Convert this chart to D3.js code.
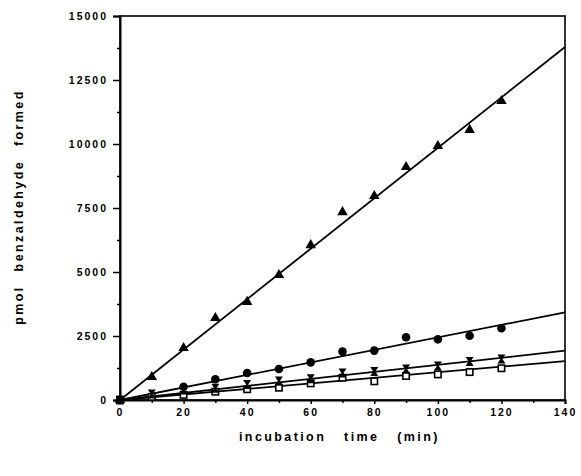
<!DOCTYPE html>
<html>
<head>
<meta charset="utf-8">
<script src="https://cdn.jsdelivr.net/npm/d3@7"></script>
<style>
    body { margin: 0; background: #fff; }
    svg { display: block; }
    text { font-family: "Liberation Sans", Arial, sans-serif; font-weight: bold; fill: #000; }
</style>
</head>
<body>
<div id="chart"></div>
<script>
// incubation time (min)
const times = [10, 20, 30, 40, 50, 60, 70, 80, 90, 100, 110, 120];

// pmol benzaldehyde formed, one array per series
const triangles = [900, 2030, 3200, 3830, 4880, 6050, 7340, 7970, 9100, 9920, 10550, 11680];
const circles   = [null, 520, 810, 1055, 1210, 1470, 1890, 1930, 2450, 2370, 2510, 2800];
const hourglass = [230, 390, 455, 610, 740, 830, 1055, 1110, 1210, 1330, 1500, 1600];
const squares   = [120, 200, 325, 420, 480, 650, 870, 730, 940, 1000, 1090, 1240];

// fitted straight lines, from the origin to 140 min
const fitX = [0, 140];
const fitTriangles = [0, 13790];
const fitCircles   = [0, 3425];
const fitHourglass = [0, 1925];
const fitSquares   = [0, 1520];

const xTicks = [0, 20, 40, 60, 80, 100, 120, 140];
const yTicks = [0, 2500, 5000, 7500, 10000, 12500, 15000];

const width = 581, height = 476;
const margin = {left: 120, right: 16, top: 16, bottom: 76};

const svg = d3.select("#chart").append("svg")
    .attr("width", width)
    .attr("height", height);

svg.append("rect").attr("width", width).attr("height", height).attr("fill", "#fff");

const x = d3.scaleLinear().domain([0, 140]).range([margin.left, width - margin.right]);
const y = d3.scaleLinear().domain([0, 15000]).range([height - margin.bottom, margin.top]);

// frame
svg.append("rect")
    .attr("x", x(0)).attr("y", y(15000))
    .attr("width", x(140) - x(0)).attr("height", y(0) - y(15000))
    .attr("fill", "none").attr("stroke", "#000").attr("stroke-width", 1.6);

// y axis, major + minor ticks
const yAxis = svg.append("g")
    .attr("transform", `translate(${x(0)},0)`)
    .call(d3.axisLeft(y).tickValues(yTicks).tickSize(7).tickPadding(5).tickFormat(d3.format("d")));
svg.append("g")
    .attr("transform", `translate(${x(0)},0)`)
    .call(d3.axisLeft(y).tickValues(d3.range(1250, 15000, 2500)).tickSize(3).tickFormat(""))
    .select(".domain").remove();

// x axis, major + minor ticks
const xAxis = svg.append("g")
    .attr("transform", `translate(0,${y(0)})`)
    .call(d3.axisBottom(x).tickValues(xTicks).tickSize(4).tickPadding(5).tickFormat(d3.format("d")));
svg.append("g")
    .attr("transform", `translate(0,${y(0)})`)
    .call(d3.axisBottom(x).tickValues(d3.range(10, 140, 20)).tickSize(3).tickFormat(""))
    .select(".domain").remove();

svg.selectAll(".domain").attr("stroke", "#000").attr("stroke-width", 2);
svg.selectAll(".tick line").attr("stroke", "#000").attr("stroke-width", 1.5);
svg.selectAll(".tick text")
    .style("font-size", "10.5px")
    .style("letter-spacing", "2px")
    .style("font-family", "'Liberation Sans', Arial, sans-serif")
    .style("font-weight", "bold");

// fit lines
const line = d3.line().x((d) => x(d[0])).y((d) => y(d[1]));
[fitTriangles, fitCircles, fitHourglass, fitSquares].forEach((fit) => {
    svg.append("path")
        .attr("d", line(fitX.map((t, i) => [t, fit[i]])))
        .attr("fill", "none")
        .attr("stroke", "#000")
        .attr("stroke-width", 1.8);
});

// markers
function points(values){
    let pts = [[0, 0]];
    values.forEach((v, i) => { if (v !== null) pts.push([times[i], v]); });
    return pts;
}

const marks = svg.append("g");

marks.selectAll(".sq").data(points(squares)).enter()
    .append("rect")
    .attr("x", (d) => x(d[0]) - 3.2)
    .attr("y", (d) => y(d[1]) - 3.2)
    .attr("width", 6.4).attr("height", 6.4)
    .attr("fill", "#fff").attr("stroke", "#000").attr("stroke-width", 1.6);

marks.selectAll(".hg").data(points(hourglass)).enter()
    .append("path")
    .attr("transform", (d) => `translate(${x(d[0])},${y(d[1])})`)
    .attr("d", "M-4,-4.5 L4,-4.5 L1,0 L4,4.5 L-4,4.5 L-1,0 Z")
    .attr("fill", "#000");

marks.selectAll(".ci").data(points(circles)).enter()
    .append("circle")
    .attr("cx", (d) => x(d[0]))
    .attr("cy", (d) => y(d[1]))
    .attr("r", 4.3)
    .attr("fill", "#000");

marks.selectAll(".tr").data(points(triangles)).enter()
    .append("path")
    .attr("transform", (d) => `translate(${x(d[0])},${y(d[1])})`)
    .attr("d", d3.symbol(d3.symbolTriangle, 48))
    .attr("fill", "#000");

// axis titles
svg.append("text")
    .attr("x", 239).attr("y", 441)
    .style("font-size", "12.5px")
    .style("letter-spacing", "2.4px")
    .style("word-spacing", "12px")
    .text("incubation time (min)");

svg.append("text")
    .attr("transform", "translate(23,207) rotate(-90)")
    .attr("text-anchor", "middle")
    .style("font-size", "12.5px")
    .style("letter-spacing", "2.4px")
    .style("word-spacing", "8px")
    .text("pmol benzaldehyde formed");
</script>
</body>
</html>
